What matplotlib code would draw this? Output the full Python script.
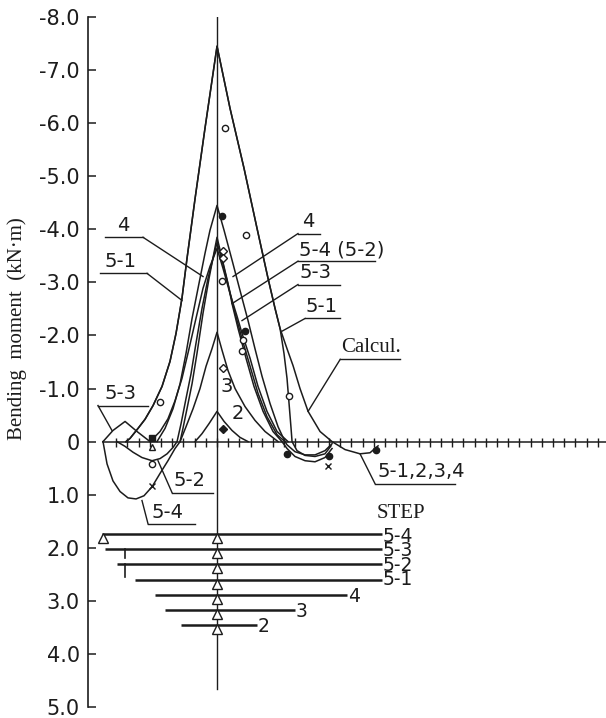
import matplotlib
matplotlib.use('Agg')
import matplotlib.pyplot as plt

INK = '#1c1c1c'

# ---------------- data (x in span-tick units, y in kN·m) ----------------
YTICKS = [-8, -7, -6, -5, -4, -3, -2, -1, 0, 1, 2, 3, 4, 5]
YTICK_LABELS = ['-8.0', '-7.0', '-6.0', '-5.0', '-4.0', '-3.0', '-2.0', '-1.0',
                '0', '1.0', '2.0', '3.0', '4.0', '5.0']
XTICKS = list(range(-9, 35))

CALC_X = [-8.13, -7.77, -7.05, -6.43, -5.71, -4.91, -4.20, -3.66, -3.13, -2.68, -1.96, -1.07, 0,
          1.16, 2.41, 3.57, 4.55, 5.18, 5.63, 6.25, 6.79, 7.41, 8.13, 9.20, 10.27, 11.43, 12.77, 13.66, 14.38]
CALC_Y = [0, -0.06, -0.25, -0.42, -0.68, -1.04, -1.51, -2.04, -2.70, -3.45, -4.58, -5.91, -7.45,
          -6.28, -5.15, -4.02, -3.08, -2.51, -2.13, -1.75, -1.43, -1.00, -0.57, -0.19, 0, 0.15, 0.23, 0.21, 0.08]

S51_X = [-8.13, -7.77, -7.05, -6.43, -5.71, -4.91, -4.20, -3.66, -3.13, -2.68, -1.96, -1.07, 0,
         1.16, 2.41, 3.57, 4.55, 5.18, 5.63, 5.98, 6.25, 6.43, 6.61, 6.70, 7.14, 7.86, 8.75, 9.64, 10.18]
S51_Y = [0, -0.06, -0.25, -0.42, -0.68, -1.04, -1.51, -2.04, -2.70, -3.45, -4.58, -5.91, -7.45,
         -6.28, -5.15, -4.02, -3.08, -2.51, -2.13, -1.66, -1.19, -0.72, -0.25, 0, 0.17, 0.26, 0.28, 0.23, 0.08]

S4_X = [-5.36, -4.64, -3.93, -3.30, -2.77, -2.23, -1.61, -1.07, -0.63, 0,
        0.63, 1.34, 2.05, 2.77, 3.39, 4.02, 4.73, 5.45, 6.07]
S4_Y = [0, -0.25, -0.62, -1.09, -1.66, -2.32, -2.98, -3.55, -3.98, -4.45,
        -3.98, -3.42, -2.85, -2.28, -1.75, -1.23, -0.72, -0.28, 0]

S54_X = [-10.18, -9.82, -9.29, -8.66, -7.95, -7.23, -6.52, -5.80, -5.09, -4.38, -3.75, -3.30,
         -3.04, -2.68, -2.23, -1.79, -1.25, -0.71, 0,
         0.45, 0.98, 1.34, 1.88, 2.59, 3.30, 4.11, 5.00, 5.80,
         6.25, 6.96, 7.86, 8.75, 9.64, 10.27]
S54_Y = [0, 0.42, 0.74, 0.94, 1.06, 1.08, 1.02, 0.85, 0.60, 0.36, 0.13, 0,
         -0.25, -0.62, -1.09, -1.66, -2.42, -3.08, -3.85,
         -3.45, -2.98, -2.60, -2.13, -1.57, -1.04, -0.57, -0.19, 0,
         0.13, 0.28, 0.36, 0.38, 0.30, 0.13]

S52_X = [-8.93, -8.21, -7.50, -6.70, -5.80, -5.09, -4.46, -3.93, -3.57,
         -3.21, -2.77, -2.32, -1.88, -1.34, -0.80, 0,
         0.54, 1.07, 1.61, 2.23, 2.95, 3.66, 4.46, 5.36, 6.07,
         6.25, 6.96, 7.86, 8.75, 9.64, 10.27]
S52_Y = [0, 0.09, 0.20, 0.30, 0.36, 0.32, 0.23, 0.11, 0,
         -0.34, -0.81, -1.28, -1.85, -2.51, -3.08, -3.75,
         -3.34, -2.89, -2.42, -1.94, -1.42, -0.91, -0.47, -0.13, 0,
         0.06, 0.19, 0.25, 0.25, 0.17, 0.04]

S53_X = [-10.18, -9.29, -8.21, -7.14, -5.98,
         -5.09, -4.38, -3.75, -3.13, -2.50, -1.88, -1.25, -0.63, 0,
         0.54, 1.16, 1.79, 2.23, 2.95, 3.66, 4.46, 5.36, 6.34]
S53_Y = [0, -0.21, -0.38, -0.19, 0,
         -0.19, -0.43, -0.77, -1.19, -1.75, -2.32, -2.89, -3.30, -3.64,
         -3.26, -2.79, -2.36, -2.04, -1.57, -1.04, -0.57, -0.19, 0]

S3_X = [-3.30, -2.77, -2.14, -1.52, -0.98, -0.45, 0, 0.45, 0.98, 1.61, 2.50, 3.39, 4.29, 5.45]
S3_Y = [0, -0.28, -0.62, -1.00, -1.42, -1.75, -2.06, -1.72, -1.34, -1.00, -0.66, -0.40, -0.19, 0]

S2_X = [-1.96, -1.34, -0.71, 0, 0.63, 1.34, 2.05, 2.77]
S2_Y = [0, -0.15, -0.34, -0.57, -0.38, -0.21, -0.08, 0]

# measured points
OPEN_CIRC_X = [0.71, 2.59, 6.43, -5.09, 0.45, 2.32, 2.23, -5.80]
OPEN_CIRC_Y = [-5.91, -3.89, -0.85, -0.75, -3.02, -1.91, -1.70, 0.42]
FILL_CIRC_X = [0.45, 2.50, 6.25, 14.20, 10.0]
FILL_CIRC_Y = [-4.25, -2.09, 0.23, 0.15, 0.28]
OPEN_DIAM_X = [0.54, 0.54, 0.54]
OPEN_DIAM_Y = [-3.60, -3.45, -1.38]
FILL_DIAM_X = [0.54]
FILL_DIAM_Y = [-0.23]
FILL_SQ_X = [-5.80]
FILL_SQ_Y = [-0.06]
OPEN_TRI_X = [-5.80]
OPEN_TRI_Y = [0.10]
CROSS_X = [-5.80, 9.90]
CROSS_Y = [0.83, 0.45]

# construction steps (support lines)
STEP_NAMES = ['5-4', '5-3', '5-2', '5-1', '4', '3', '2']
STEP_Y = [1.74, 2.02, 2.30, 2.60, 2.89, 3.17, 3.45]
STEP_X0 = [-10.27, -10.0, -8.93, -7.32, -5.54, -4.64, -3.21]
STEP_X1 = [14.73, 14.73, 14.73, 14.73, 11.61, 6.96, 3.57]
STRUT_X = -8.21
STRUT_Y0 = [2.02, 2.30]
STRUT_Y1 = [2.19, 2.55]

# ---------------- figure ----------------
fig = plt.figure(figsize=(6.06, 7.18), dpi=100)
ax = fig.add_axes([88 / 606, 11 / 718, 518 / 606, 690 / 718])
ax.set_xlim(-11.52, 34.73)
ax.set_ylim(5.0, -8.0)
for s in ['top', 'right', 'bottom']:
    ax.spines[s].set_visible(False)
ax.spines['left'].set_linewidth(1.2)
ax.spines['left'].set_color(INK)
ax.set_xticks([])
ax.set_yticks(YTICKS)
ax.set_yticklabels(YTICK_LABELS, fontsize=15, family='DejaVu Sans', color=INK)
ax.tick_params(axis='y', direction='in', length=6, width=1.1, pad=6, color=INK)

fig.text(17 / 606, 1 - 329 / 718, 'Bending  moment  (kN\u00b7m)', rotation=90,
         family='Liberation Serif', fontsize=15, ha='center', va='center', color=INK)

# baseline with ticks and centre line
ax.plot([-10.2, 34.73], [0, 0], color=INK, lw=1.1, clip_on=False)
ax.vlines(XTICKS, -0.07, 0.10, color=INK, lw=1.0)
ax.plot([0, 0], [-8.0, 4.66], color=INK, lw=1.0)

# moment curves
for xs, ys in [(CALC_X, CALC_Y), (S51_X, S51_Y), (S4_X, S4_Y), (S54_X, S54_Y),
               (S52_X, S52_Y), (S53_X, S53_Y), (S3_X, S3_Y), (S2_X, S2_Y)]:
    ax.plot(xs, ys, color=INK, lw=1.1)

# markers
mk = dict(color=INK, ms=4.5, ls='none', mew=1.0)
ax.plot(OPEN_CIRC_X, OPEN_CIRC_Y, marker='o', mfc='white', **mk)
ax.plot(FILL_CIRC_X, FILL_CIRC_Y, marker='o', **mk)
ax.plot(OPEN_DIAM_X, OPEN_DIAM_Y, marker='D', mfc='white', **{**mk, 'ms': 4})
ax.plot(FILL_DIAM_X, FILL_DIAM_Y, marker='D', **{**mk, 'ms': 4})
ax.plot(FILL_SQ_X, FILL_SQ_Y, marker='s', **mk)
ax.plot(OPEN_TRI_X, OPEN_TRI_Y, marker='^', mfc='white', **mk)
ax.plot(CROSS_X, CROSS_Y, marker='x', **{**mk, 'ms': 4})

# step lines
for y, x0, x1 in zip(STEP_Y, STEP_X0, STEP_X1):
    ax.plot([x0, x1], [y, y], color=INK, lw=1.8, solid_capstyle='butt')
    ax.plot([0], [y + 0.075], marker='^', ms=6.5, mfc='white', mec=INK, mew=1.0)
ax.plot([STEP_X0[0] + 0.1], [STEP_Y[0] + 0.075], marker='^', ms=6.5, mfc='white', mec=INK, mew=1.0)
# the four tightly stacked labels of the long lines as one block
ax.text(STEP_X1[0] + 0.08, (STEP_Y[0] + STEP_Y[3]) / 2 + 0.02, '\n'.join(STEP_NAMES[:4]),
        fontsize=13.5, family='DejaVu Sans', ha='left', va='center', linespacing=0.7, color=INK)
for name, y, x1 in zip(STEP_NAMES[4:], STEP_Y[4:], STEP_X1[4:]):
    ax.text(x1 + 0.08, y + 0.03, name, fontsize=13.5, family='DejaVu Sans',
            ha='left', va='center', color=INK)
for y0, y1 in zip(STRUT_Y0, STRUT_Y1):
    ax.plot([STRUT_X, STRUT_X], [y0, y1], color=INK, lw=1.2)
ax.text(14.29, 1.36, 'STEP', fontsize=15, family='Liberation Serif', ha='left', va='center', color=INK)

# labels with leaders: (text, text x, align, underline x0, x1, y, leader start, leader end)
LEADERS = [
    ('4', -8.39, 'center', -10.0, -6.61, -3.85, (-6.61, -3.85), (-1.25, -3.11)),
    ('5-1', -8.66, 'center', -10.45, -6.25, -3.17, (-6.25, -3.17), (-3.13, -2.66)),
    ('4', 8.13, 'center', 7.23, 9.20, -3.92, (7.23, -3.92), (1.43, -3.11)),
    ('5-4 (5-2)', 7.32, 'left', 7.23, 14.11, -3.40, (7.23, -3.40), (1.34, -2.60)),
    ('5-3', 7.32, 'left', 7.23, 10.98, -2.96, (7.23, -2.96), (2.23, -2.28)),
    ('5-1', 7.86, 'left', 7.86, 10.98, -2.32, (7.86, -2.32), (5.80, -2.08)),
    ('5-1,2,3,4', 14.29, 'left', 14.10, 21.25, 0.79, (14.10, 0.79), (12.77, 0.23)),
    ('5-3', -8.66, 'center', -10.63, -6.16, -0.68, (-10.63, -0.68), (-9.38, -0.21)),
    ('5-2', -2.50, 'center', -4.02, -0.36, 0.96, (-4.02, 0.96), (-5.27, 0.36)),
    ('5-4', -4.38, 'center', -6.16, -1.96, 1.55, (-6.16, 1.55), (-6.70, 1.11)),
]
for txt, tx, ha, ux0, ux1, uy, p0, p1 in LEADERS:
    ax.plot([ux0, ux1], [uy, uy], color=INK, lw=1.0)
    ax.plot([p0[0], p1[0]], [p0[1], p1[1]], color=INK, lw=1.0)
    ax.text(tx, uy - 0.04, txt, fontsize=14, family='DejaVu Sans', ha=ha, va='bottom', color=INK)

ax.plot([11.0, 16.3], [-1.55, -1.55], color=INK, lw=1.0)
ax.plot([11.0, 8.13], [-1.55, -0.57], color=INK, lw=1.0)
ax.text(11.1, -1.6, 'Calcul.', fontsize=15, family='Liberation Serif', ha='left', va='bottom', color=INK)

ax.text(0.89, -1.04, '3', fontsize=14, family='DejaVu Sans', ha='center', va='center', color=INK)
ax.text(1.88, -0.53, '2', fontsize=14, family='DejaVu Sans', ha='center', va='center', color=INK)

fig.savefig('out.png', dpi=100, facecolor='white')
